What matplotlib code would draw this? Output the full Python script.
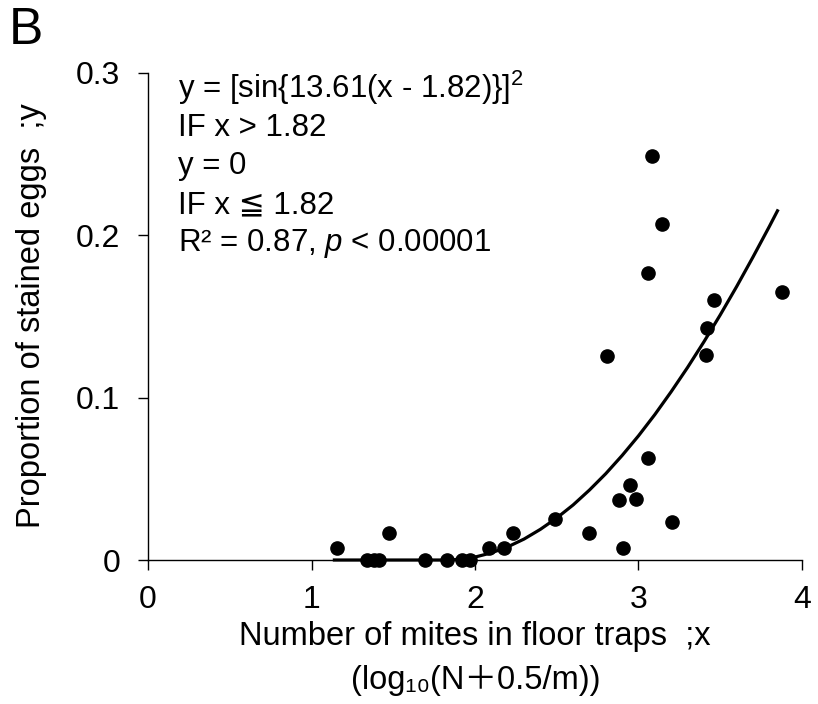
import matplotlib.pyplot as plt

plt.rcParams['font.family'] = ['Liberation Sans', 'DejaVu Sans', 'Noto Sans CJK JP']
plt.rcParams['mathtext.fontset'] = 'custom'
plt.rcParams['mathtext.rm'] = 'Liberation Sans'
plt.rcParams['mathtext.it'] = 'Liberation Sans:italic'

# observed points (log10 mites in floor traps, proportion of stained eggs)
mites_x = [1.156, 1.34, 1.38, 1.41, 1.474, 1.694, 1.83, 1.92, 1.97,
           2.086, 2.18, 2.23, 2.49, 2.70, 2.81, 2.88, 2.905, 2.95, 2.985,
           3.058, 3.06, 3.083, 3.144, 3.205, 3.41, 3.42, 3.46, 3.88]
eggs_y = [0.0074, 0.0, 0.0, 0.0, 0.0166, 0.0, 0.0, 0.0, 0.0,
          0.0074, 0.0074, 0.0166, 0.025, 0.0166, 0.1255, 0.037, 0.0074, 0.046, 0.0375,
          0.177, 0.063, 0.2486, 0.207, 0.0234, 0.126, 0.143, 0.160, 0.165]

# fitted curve
curve_x = [1.14, 1.82, 1.9, 2.0, 2.1, 2.2, 2.3, 2.4, 2.5, 2.6, 2.7, 2.8,
           2.9, 3.0, 3.1, 3.2, 3.3, 3.4, 3.5, 3.6, 3.7, 3.8, 3.85]
curve_y = [0.0, 0.0, 0.0004, 0.0018, 0.0044, 0.0081, 0.0129, 0.0189, 0.0259,
           0.0339, 0.0431, 0.0532, 0.0644, 0.0765, 0.0896, 0.1037, 0.1186,
           0.1344, 0.1510, 0.1684, 0.1866, 0.2054, 0.2151]

x_ticks = [0, 1, 2, 3, 4]
y_ticks = [0, 0.1, 0.2, 0.3]
y_ticklabels = ['0', '0.1', '0.2', '0.3']

fig = plt.figure(figsize=(8.18, 7.04), dpi=100)
ax = fig.add_axes([148 / 818, 1 - 560 / 704, 654 / 818, 487 / 704])

ax.plot(curve_x, curve_y, color='black', lw=2.3, zorder=2)
ax.plot(mites_x, eggs_y, 'o', color='black', markersize=9.5, zorder=3)

ax.set_xlim(0, 4)
ax.set_ylim(0, 0.3)
ax.set_xticks(x_ticks)
ax.set_yticks(y_ticks)
ax.set_yticklabels(y_ticklabels)
ax.spines['top'].set_visible(False)
ax.spines['right'].set_visible(False)
for s in ['left', 'bottom']:
    ax.spines[s].set_linewidth(1.0)
ax.tick_params(direction='out', length=7, width=1.0, labelsize=23)
ax.tick_params(axis='x', pad=11)
ax.tick_params(axis='y', pad=13)
for l in ax.lines:
    l.set_clip_on(False)

# axis titles
fig.text(475 / 818, 1 - 637 / 704, 'Number of mites in floor traps  ;x',
         fontsize=23.5, ha='center', va='center')
fig.text(476 / 818, 1 - 680 / 704, '(log₁₀(N＋0.5/m))',
         fontsize=23.5, ha='center', va='center')
fig.text(32 / 818, 1 - 316 / 704, 'Proportion of stained eggs  ;y',
         fontsize=23.5, rotation=90, ha='center', va='center')

tx = 30 / 654
lines = [r'y = [sin{13.61(x - 1.82)}]$^{2}$',
         'IF x > 1.82',
         'y = 0',
         'IF x ≦ 1.82',
         r'R² = 0.87, $p$ < 0.00001']
line_y = [88, 128, 166, 205, 243]
for t, py in zip(lines, line_y):
    ax.text(tx, (560 - py) / 487, t, transform=ax.transAxes, fontsize=22.5,
            va='center', ha='left')

fig.text(9 / 818, 1 - 31 / 704, 'B', fontsize=37, va='center', ha='left')

fig.savefig('out.png', dpi=100)
